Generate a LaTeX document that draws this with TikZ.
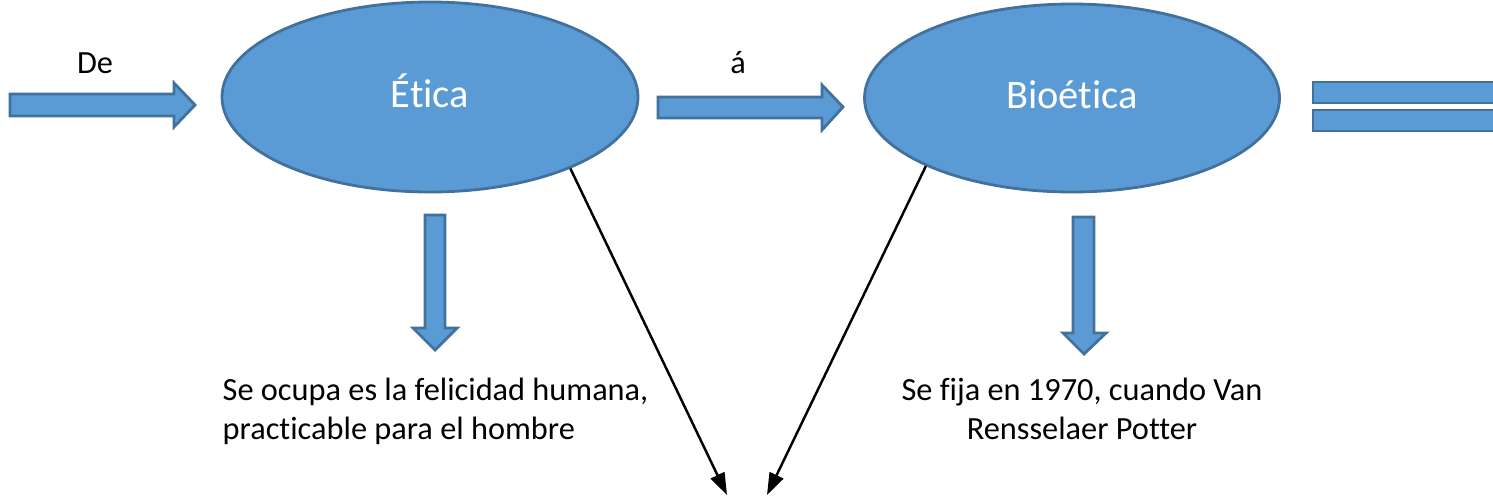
\documentclass[tikz,border=0pt]{standalone}
\usepackage{fontspec}
\setmainfont{Carlito}[Ligatures=NoCommon]
\usetikzlibrary{shapes.geometric,arrows.meta}
\definecolor{officeblue}{RGB}{91,155,213}
\definecolor{officeline}{RGB}{65,113,156}
\tikzset{
    blockarrow/.style={fill=officeblue, draw=officeline, line width=0.8pt, line join=miter},
    bubble/.style={ellipse, fill=officeblue, draw=officeline, line width=0.8pt, text=white, font=\fontsize{11.5}{13.5}\selectfont, inner sep=0pt, text height=5.7pt, text depth=0pt},
    pointer/.style={line width=0.7pt, -{Triangle[length=0.22cm,width=0.15cm]}},
    plain/.style={inner sep=0pt, font=\fontsize{9.2}{11.3}\selectfont}
}
\begin{document}
\begin{tikzpicture}
    \useasboundingbox (0,0) rectangle (14.93,5.01);
    \clip (0,0) rectangle (14.93,5.01);
    % ellipses
    \node [bubble, minimum width=4.16cm, minimum height=1.90cm] (etica) at (4.30,4.04) {Ética};
    \node [bubble, minimum width=4.15cm, minimum height=1.88cm] (bioetica) at (10.72,4.03) {Bioética};
    % block arrows
    \draw [blockarrow] (0.10,3.85) -- (1.74,3.85) -- (1.74,3.74) -- (1.95,3.96) -- (1.74,4.18) -- (1.74,4.07) -- (0.10,4.07) -- cycle;
    \draw [blockarrow] (6.58,3.83) -- (8.22,3.83) -- (8.22,3.71) -- (8.43,3.94) -- (8.22,4.16) -- (8.22,4.04) -- (6.58,4.04) -- cycle;
    \draw [blockarrow] (4.25,2.86) -- (4.25,1.73) -- (4.13,1.73) -- (4.35,1.51) -- (4.57,1.73) -- (4.45,1.73) -- (4.45,2.86) -- cycle;
    \draw [blockarrow] (10.73,2.84) -- (10.73,1.68) -- (10.63,1.68) -- (10.84,1.47) -- (11.06,1.68) -- (10.94,1.68) -- (10.94,2.84) -- cycle;
    \draw [blockarrow] (13.13,3.98) rectangle (15.10,4.19);
    \draw [blockarrow] (13.13,3.70) rectangle (15.10,3.91);
    % labels
    \node [plain, anchor=base] (de) at (0.95,4.28) {De};
    \node [plain, anchor=base] (acento) at (7.38,4.28) {á};
    \node [plain, anchor=north west, align=left] (felicidad) at (2.22,1.24) {Se ocupa es la felicidad humana,\\practicable para el hombre};
    \node [plain, anchor=north, align=center] (potter) at (10.82,1.24) {Se fija en 1970, cuando Van\\Rensselaer Potter};
    % thin arrows
    \coordinate (endA) at (7.27,0.06);
    \coordinate (endB) at (7.67,0.06);
    \draw [pointer] (etica.-27.5) -- (endA);
    \draw [pointer] (bioetica.205) -- (endB);
\end{tikzpicture}
\end{document}
